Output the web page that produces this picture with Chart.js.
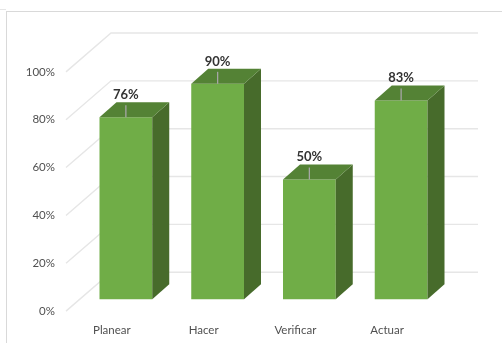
<!DOCTYPE html>
<html>
<head>
<meta charset="utf-8">
<title>PHVA</title>
<script src="https://cdn.jsdelivr.net/npm/chart.js@4"></script>
<style>
    html, body { margin: 0; padding: 0; background: #fff; overflow: hidden; }
    #wrap { position: relative; width: 502px; height: 343px; filter: blur(0.45px); }
    #frame { position: absolute; left: 6px; top: 11px; right: 0; bottom: 0; border-left: 1px solid #d9d9d9; border-top: 1px solid #d9d9d9; }
    #strip { position: absolute; left: 0; top: 9px; width: 6px; height: 1px; background: #e6e6e6; }
    canvas { position: absolute; left: 0; top: 0; }
</style>
</head>
<body>
<div id="wrap">
    <div id="frame"></div>
    <div id="strip"></div>
    <canvas id="chart" width="502" height="343"></canvas>
</div>
<script>
const categories = ['Planear', 'Hacer', 'Verificar', 'Actuar'];
const values = [76, 90, 50, 83];
const yTicks = [0, 20, 40, 60, 80, 100];

const FONT = 'Lato';
const depthX = 17, depthY = 15;   // how far the fake 3D goes back
const backLeft = 111, backRight = 478;

// grey wall lines and back gridlines, behind the bars
const wallPlugin = {
    id: 'wall',
    beforeDatasetsDraw(chart) {
        const { ctx, scales } = chart;
        ctx.save();
        ctx.strokeStyle = '#e6e6e6';
        ctx.lineWidth = 1.4;
        yTicks.forEach(v => {
            const yBack = scales.yBack.getPixelForValue(v);
            ctx.beginPath();
            ctx.moveTo(66, scales.yLabels.getPixelForValue(v));
            ctx.lineTo(backLeft, yBack);
            ctx.lineTo(backRight, yBack);
            ctx.stroke();
        });
        ctx.restore();
    }
};

// side and top faces of each bar, plus the value labels with their leader lines
const boxPlugin = {
    id: 'box',
    afterDatasetsDraw(chart) {
        const { ctx } = chart;
        ctx.save();
        chart.getDatasetMeta(0).data.forEach((bar, i) => {
            const left = bar.x - bar.width / 2;
            const right = bar.x + bar.width / 2;

            ctx.fillStyle = '#476b2b';
            ctx.beginPath();
            ctx.moveTo(right, bar.y);
            ctx.lineTo(right + depthX, bar.y - depthY);
            ctx.lineTo(right + depthX, bar.base - depthY);
            ctx.lineTo(right, bar.base);
            ctx.closePath();
            ctx.fill();

            ctx.fillStyle = '#548235';
            ctx.beginPath();
            ctx.moveTo(left, bar.y);
            ctx.lineTo(left + depthX, bar.y - depthY);
            ctx.lineTo(right + depthX, bar.y - depthY);
            ctx.lineTo(right, bar.y);
            ctx.closePath();
            ctx.fill();

            ctx.strokeStyle = '#a6a6a6';
            ctx.lineWidth = 1.3;
            ctx.beginPath();
            ctx.moveTo(bar.x, bar.y - 12);
            ctx.lineTo(bar.x, bar.y);
            ctx.stroke();

            ctx.fillStyle = '#333333';
            ctx.font = `bold 13px ${FONT}`;
            ctx.textAlign = 'center';
            ctx.textBaseline = 'middle';
            ctx.fillText(values[i] + '%', bar.x, bar.y - 22.5);
        });
        ctx.restore();
    }
};

new Chart(document.getElementById('chart'), {
    type: 'bar',
    data: {
        labels: categories,
        datasets: [{
            data: values,
            yAxisID: 'yBars',
            backgroundColor: '#70ad47',
            categoryPercentage: 1,
            barPercentage: 0.575
        }]
    },
    options: {
        responsive: false,
        animation: false,
        layout: { padding: { top: 33, right: 55, left: 0, bottom: 0 } },
        plugins: { legend: { display: false }, tooltip: { enabled: false } },
        scales: {
            x: {
                grid: { display: false },
                border: { display: false },
                afterFit: s => { s.height = 31; },
                ticks: {
                    color: '#505050',
                    font: { family: FONT, size: 11.5 },
                    labelOffset: -14,
                    padding: 4,
                    maxRotation: 0
                }
            },
            // front plane of the bars
            yBars: { display: false, min: -5, max: 111.25 },
            // back wall, only the gridlines use it
            yBack: { display: false, min: -16.25, max: 100 },
            // labels on the left edge of the wall
            yLabels: {
                position: 'left',
                min: 0,
                max: 116.25,
                grid: { display: false, drawTicks: false },
                border: { display: false },
                afterFit: s => { s.width = 80; },
                afterBuildTicks: s => { s.ticks = yTicks.map(v => ({ value: v })); },
                ticks: {
                    color: '#505050',
                    font: { family: FONT, size: 11.5 },
                    padding: 25,
                    autoSkip: false,
                    callback: v => v + '%'
                }
            }
        }
    },
    plugins: [wallPlugin, boxPlugin]
});
</script>
</body>
</html>
